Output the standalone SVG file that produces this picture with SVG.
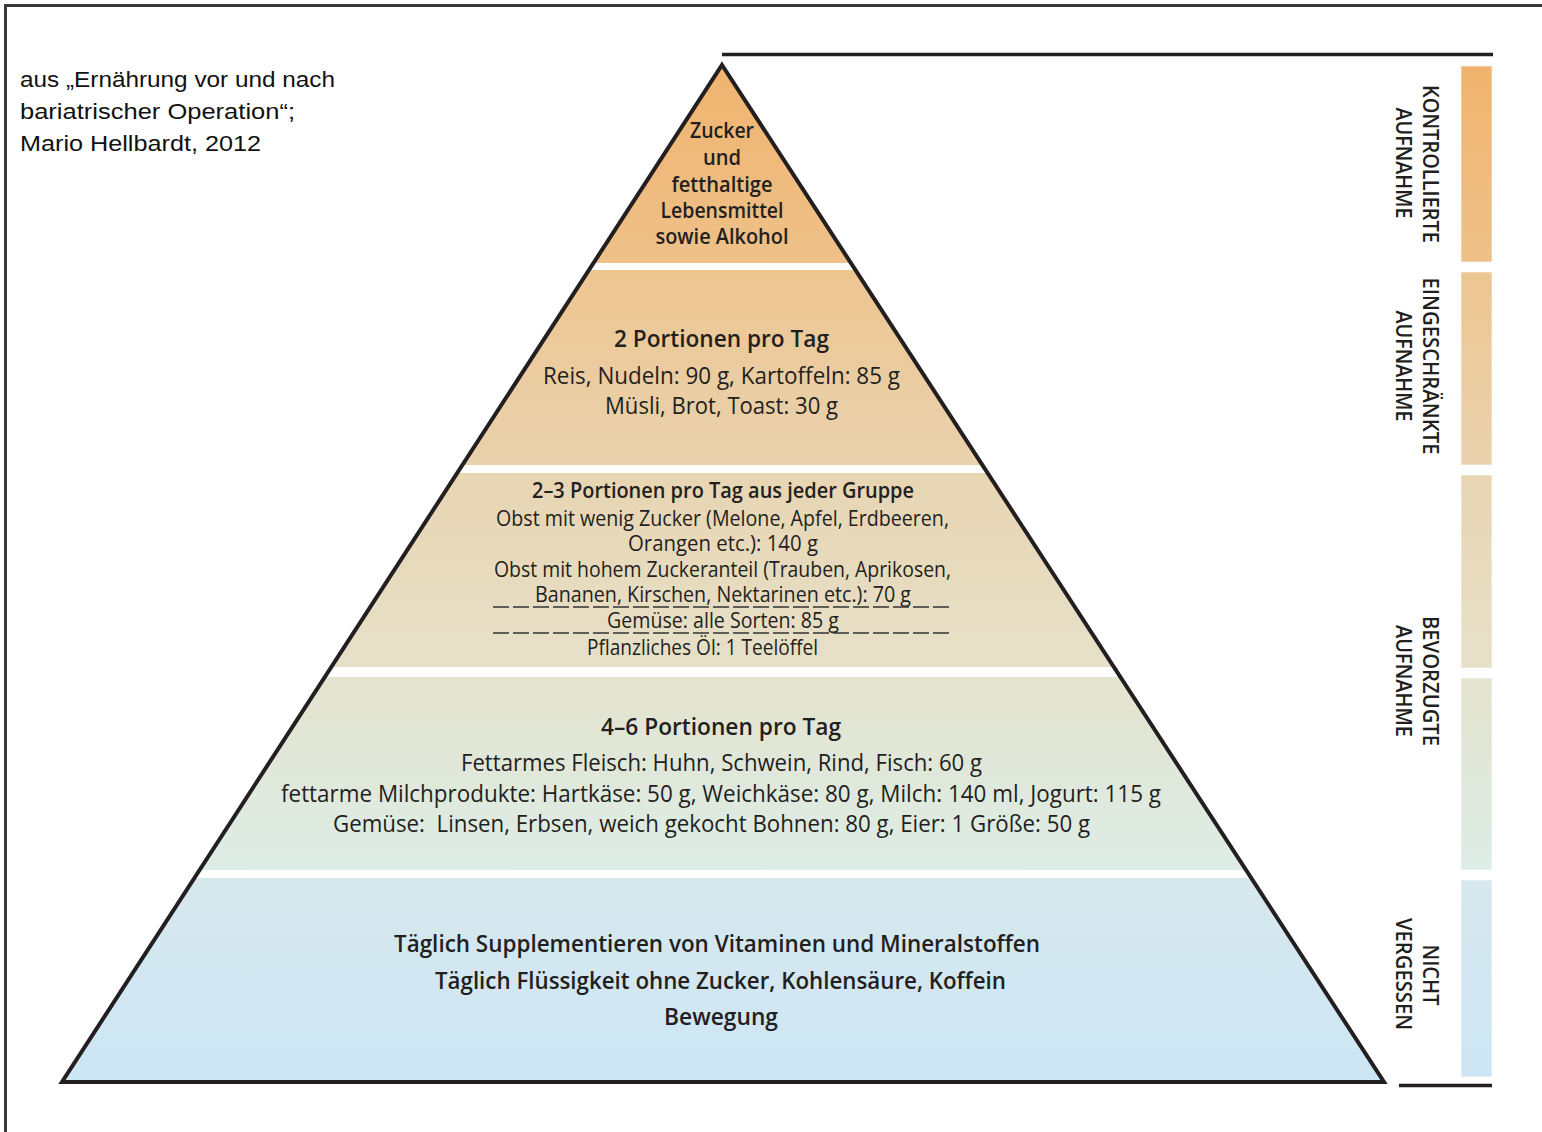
<svg xmlns="http://www.w3.org/2000/svg" width="1542" height="1132" viewBox="0 0 1542 1132">
<defs>
<linearGradient id="pg" gradientUnits="userSpaceOnUse" x1="0" y1="65" x2="0" y2="1082">
<stop offset="0" stop-color="#F0B36E"/>
<stop offset="0.195" stop-color="#EEC189"/>
<stop offset="0.202" stop-color="#EDC590"/>
<stop offset="0.393" stop-color="#E9D2AE"/>
<stop offset="0.401" stop-color="#E8D5B2"/>
<stop offset="0.592" stop-color="#E6E0C9"/>
<stop offset="0.602" stop-color="#E4E3CE"/>
<stop offset="0.792" stop-color="#DDEDE7"/>
<stop offset="0.799" stop-color="#D7E8ED"/>
<stop offset="1" stop-color="#CDE6F5"/>
</linearGradient>
<style>
.t{font-family:"Open Sans","Noto Sans",sans-serif;fill:#231F20;text-anchor:middle}
.b{font-weight:600}
.s21{font-size:21px}
.s23{font-size:23px}
.lab{font-family:"Open Sans","Noto Sans",sans-serif;fill:#231F20;text-anchor:middle;font-size:21px;font-weight:600}
.cit{font-family:"Liberation Sans",Arial,sans-serif;fill:#111;font-size:22px}
.bar{fill:url(#pg);stroke:#ffffff;stroke-opacity:0.6;stroke-width:1}
.dash{stroke:#333;stroke-width:1.3;stroke-dasharray:16 4;fill:none}
</style>
</defs>
<rect x="0" y="0" width="1542" height="1132" fill="#ffffff"/>
<g id="frame" fill="none" stroke="#3a3a3a" stroke-width="3">
<path d="M5.5,1132 V5.5 H1542"/>
</g>
<g id="citation">
<text class="cit" x="20" y="87" textLength="315" lengthAdjust="spacingAndGlyphs">aus „Ernährung vor und nach</text>
<text class="cit" x="20" y="119" textLength="275" lengthAdjust="spacingAndGlyphs">bariatrischer Operation“;</text>
<text class="cit" x="20" y="151" textLength="241" lengthAdjust="spacingAndGlyphs">Mario Hellbardt, 2012</text>
</g>
<g id="band1">
<polygon points="722,65 850.9,263 593.5,263" fill="url(#pg)"/>
<text class="t b s21" x="722" y="138" textLength="64" lengthAdjust="spacingAndGlyphs">Zucker</text>
<text class="t b s21" x="722" y="165" textLength="38" lengthAdjust="spacingAndGlyphs">und</text>
<text class="t b s21" x="722" y="192" textLength="101" lengthAdjust="spacingAndGlyphs">fetthaltige</text>
<text class="t b s21" x="722" y="218" textLength="123" lengthAdjust="spacingAndGlyphs">Lebensmittel</text>
<text class="t b s21" x="722" y="244" textLength="133" lengthAdjust="spacingAndGlyphs">sowie Alkohol</text>
</g>
<g id="band2">
<polygon points="589,270 855.4,270 982.4,465 462.4,465" fill="url(#pg)"/>
<text class="t b s23" x="721.5" y="347" textLength="215" lengthAdjust="spacingAndGlyphs">2 Portionen pro Tag</text>
<text class="t s23" x="721.5" y="384" textLength="357" lengthAdjust="spacingAndGlyphs">Reis, Nudeln: 90 g, Kartoffeln: 85 g</text>
<text class="t s23" x="721.5" y="414" textLength="233" lengthAdjust="spacingAndGlyphs">Müsli, Brot, Toast: 30 g</text>
</g>
<g id="band3">
<polygon points="457.2,473 987.6,473 1113.9,667 331.3,667" fill="url(#pg)"/>
<text class="t b s21" x="723" y="498" textLength="382" lengthAdjust="spacingAndGlyphs">2–3 Portionen pro Tag aus jeder Gruppe</text>
<text class="t s21" x="722.5" y="526" textLength="453" lengthAdjust="spacingAndGlyphs">Obst mit wenig Zucker (Melone, Apfel, Erdbeeren,</text>
<text class="t s21" x="723" y="551" textLength="190" lengthAdjust="spacingAndGlyphs">Orangen etc.): 140 g</text>
<text class="t s21" x="722.5" y="577" textLength="457" lengthAdjust="spacingAndGlyphs">Obst mit hohem Zuckeranteil (Trauben, Aprikosen,</text>
<text class="t s21" x="723" y="602" textLength="376" lengthAdjust="spacingAndGlyphs">Bananen, Kirschen, Nektarinen etc.): 70 g</text>
<line class="dash" x1="493" y1="607" x2="953" y2="607"/>
<text class="t s21" x="723" y="628" textLength="232" lengthAdjust="spacingAndGlyphs">Gemüse: alle Sorten: 85 g</text>
<line class="dash" x1="493" y1="633" x2="953" y2="633"/>
<text class="t s21" x="702.5" y="655" textLength="231" lengthAdjust="spacingAndGlyphs">Pflanzliches Öl: 1 Teelöffel</text>
</g>
<g id="band4">
<polygon points="324.8,677 1120.4,677 1246,870 199.6,870" fill="url(#pg)"/>
<text class="t b s23" x="721" y="735" textLength="240" lengthAdjust="spacingAndGlyphs">4–6 Portionen pro Tag</text>
<text class="t s23" x="721.5" y="771" textLength="521" lengthAdjust="spacingAndGlyphs">Fettarmes Fleisch: Huhn, Schwein, Rind, Fisch: 60 g</text>
<text class="t s23" x="721" y="802" textLength="880" lengthAdjust="spacingAndGlyphs">fettarme Milchprodukte: Hartkäse: 50 g, Weichkäse: 80 g, Milch: 140 ml, Jogurt: 115 g</text>
<text class="t s23" x="711.5" y="832" textLength="757" lengthAdjust="spacingAndGlyphs" xml:space="preserve">Gemüse:  Linsen, Erbsen, weich gekocht Bohnen: 80 g, Eier: 1 Größe: 50 g</text>
</g>
<g id="band5">
<polygon points="194.4,878 1251.2,878 1384,1082 62,1082" fill="url(#pg)"/>
<text class="t b s23" x="717" y="952" textLength="646" lengthAdjust="spacingAndGlyphs">Täglich Supplementieren von Vitaminen und Mineralstoffen</text>
<text class="t b s23" x="720.5" y="989" textLength="571" lengthAdjust="spacingAndGlyphs">Täglich Flüssigkeit ohne Zucker, Kohlensäure, Koffein</text>
<text class="t b s23" x="721" y="1025" textLength="114" lengthAdjust="spacingAndGlyphs">Bewegung</text>
</g>
<g id="pyramid-outline">
<polygon points="722,65 1384,1082 62,1082" fill="none" stroke="#231F20" stroke-width="4" stroke-linejoin="miter"/>
</g>
<g id="scale-lines" stroke="#231F20" stroke-width="3.5">
<line x1="722" y1="54.5" x2="1493" y2="54.5"/>
<line x1="1399" y1="1085.5" x2="1492" y2="1085.5"/>
</g>
<g id="bar-kontrolliert">
<rect class="bar" x="1461" y="66" width="31" height="196"/>
<text class="lab" transform="translate(1423,164) rotate(90)" textLength="158" lengthAdjust="spacingAndGlyphs">KONTROLLIERTE</text>
<text class="lab" transform="translate(1396,163) rotate(90)" textLength="111" lengthAdjust="spacingAndGlyphs">AUFNAHME</text>
</g>
<g id="bar-eingeschraenkt">
<rect class="bar" x="1461" y="272" width="31" height="193"/>
<text class="lab" transform="translate(1423,366) rotate(90)" textLength="177" lengthAdjust="spacingAndGlyphs">EINGESCHRÄNKTE</text>
<text class="lab" transform="translate(1396,366) rotate(90)" textLength="111" lengthAdjust="spacingAndGlyphs">AUFNAHME</text>
</g>
<g id="bar-bevorzugt">
<rect class="bar" x="1461" y="475" width="31" height="193"/>
<rect class="bar" x="1461" y="678" width="31" height="192"/>
<text class="lab" transform="translate(1423,681) rotate(90)" textLength="130" lengthAdjust="spacingAndGlyphs">BEVORZUGTE</text>
<text class="lab" transform="translate(1396,681) rotate(90)" textLength="112" lengthAdjust="spacingAndGlyphs">AUFNAHME</text>
</g>
<g id="bar-nicht-vergessen">
<rect class="bar" x="1461" y="880" width="31" height="197"/>
<text class="lab" transform="translate(1423,975) rotate(90)" textLength="61" lengthAdjust="spacingAndGlyphs">NICHT</text>
<text class="lab" transform="translate(1396,974) rotate(90)" textLength="112" lengthAdjust="spacingAndGlyphs">VERGESSEN</text>
</g>
</svg>
